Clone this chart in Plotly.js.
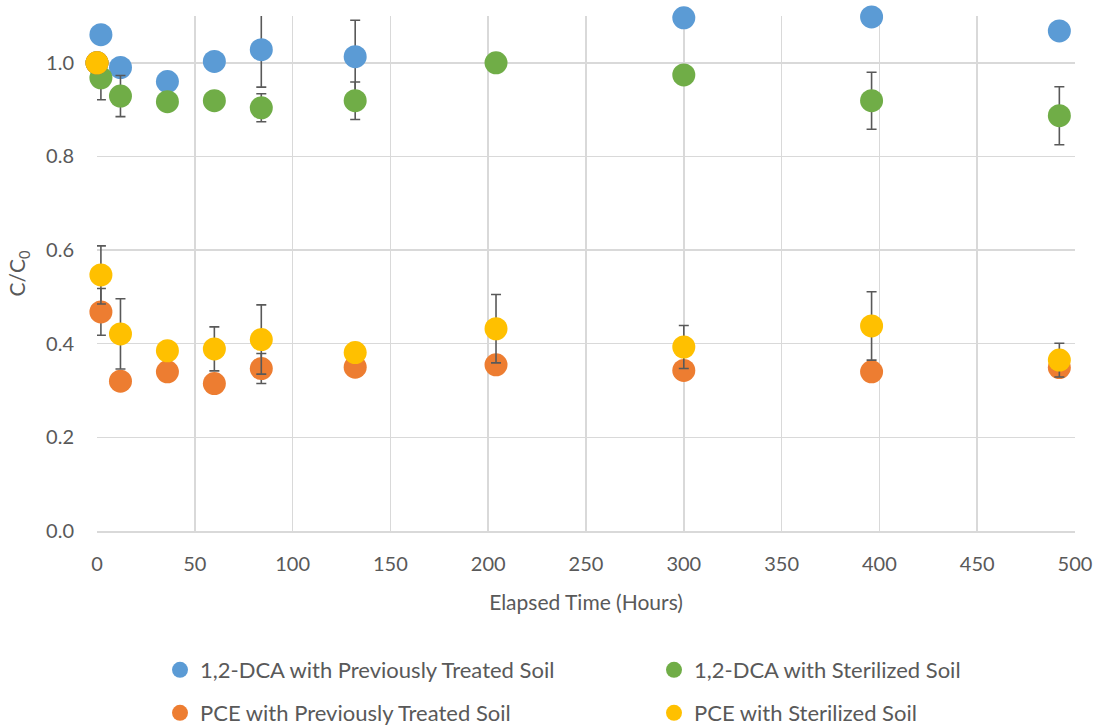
<!DOCTYPE html>
<html>
<head>
<meta charset="utf-8">
<script src="https://cdn.plot.ly/plotly-3.0.1.min.js"></script>
<style>
  html, body { margin: 0; padding: 0; background: #fff; }
  #chart { width: 1098px; height: 726px; }
</style>
</head>
<body>
<div id="chart"></div>
<script>
// Elapsed time (hours) sampled for every series
const hours = [0, 2, 12, 36, 60, 84, 132, 204, 300, 396, 492];

// C/C0 values
const dcaTreated   = [1.0, 1.06, 0.99, 0.96, 1.003, 1.028, 1.013, null, 1.096, 1.098, 1.068];
const dcaTreatedErr = [0, 0, 0, 0, 0, 0.08, 0.078, 0, 0, 0, 0];

const dcaSterile   = [1.0, 0.968, 0.929, 0.917, 0.919, 0.904, 0.919, 1.0, 0.974, 0.919, 0.887];
const dcaSterileErr = [0, 0.047, 0.044, 0, 0, 0.03, 0.04, 0, 0, 0.061, 0.062];

const pceTreated   = [1.0, 0.468, 0.32, 0.34, 0.315, 0.347, 0.35, 0.355, 0.343, 0.34, 0.349];
const pceTreatedErr = [0, 0.05, 0, 0, 0, 0.032, 0, 0, 0, 0, 0];

const pceSterile   = [1.0, 0.547, 0.421, 0.385, 0.389, 0.409, 0.381, 0.432, 0.393, 0.438, 0.365];
const pceSterileErr = [0, 0.062, 0.075, 0, 0.047, 0.074, 0, 0.073, 0.046, 0.073, 0.036];

const xTicks = [0, 50, 100, 150, 200, 250, 300, 350, 400, 450, 500];
const yTicks = [0, 0.2, 0.4, 0.6, 0.8, 1.0];

const COLORS = {
  blue: '#5b9bd5',
  green: '#70ad47',
  orange: '#ed7d31',
  yellow: '#ffc000',
  grid: '#d9d9d9',
  text: '#595959',
  errbar: '#595959',
};

const FONT = 'Lato, Open Sans, sans-serif';

function makeTrace(name, y, err, color, legendId) {
  return {
    x: hours,
    y: y,
    name: name,
    legend: legendId,
    type: 'scatter',
    mode: 'markers',
    cliponaxis: false,
    marker: { color: color, size: 23, line: { width: 0 } },
    error_y: {
      type: 'data',
      array: err,
      visible: true,
      color: COLORS.errbar,
      thickness: 1.6,
      width: 5,
    },
  };
}

const data = [
  makeTrace('1,2-DCA with Previously Treated Soil', dcaTreated, dcaTreatedErr, COLORS.blue, 'legend'),
  makeTrace('1,2-DCA with Sterilized Soil', dcaSterile, dcaSterileErr, COLORS.green, 'legend2'),
  makeTrace('PCE with Previously Treated Soil', pceTreated, pceTreatedErr, COLORS.orange, 'legend3'),
  makeTrace('PCE with Sterilized Soil', pceSterile, pceSterileErr, COLORS.yellow, 'legend4'),
];

// One legend per entry, laid out as a 2x2 grid like the original
function legendAt(left, middle) {
  return {
    orientation: 'h',
    xref: 'container',
    x: left / 1098,
    xanchor: 'left',
    yref: 'container',
    y: 1 - middle / 726,
    yanchor: 'middle',
    font: { family: FONT, size: 22, color: COLORS.text },
    itemsizing: 'trace',
    bgcolor: 'rgba(0,0,0,0)',
  };
}

const layout = {
  width: 1098,
  height: 726,
  margin: { l: 97, r: 23, t: 16, b: 195, autoexpand: false },
  paper_bgcolor: '#fff',
  plot_bgcolor: '#fff',
  font: { family: FONT, color: COLORS.text, size: 20 },
  showlegend: true,
  xaxis: {
    range: [0, 500],
    tickvals: xTicks,
    ticktext: xTicks.map(String),
    showgrid: true,
    gridcolor: COLORS.grid,
    gridwidth: 1.5,
    zeroline: false,
    showline: true,
    linecolor: COLORS.grid,
    linewidth: 1.5,
    ticks: '',
    ticklabelstandoff: 14,
    tickfont: { family: FONT, size: 20, color: COLORS.text },
    title: {
      text: 'Elapsed Time (Hours)',
      font: { family: FONT, size: 21, color: COLORS.text },
      standoff: 22,
    },
  },
  yaxis: {
    range: [0, 1.1],
    tickvals: yTicks,
    ticktext: yTicks.map(v => v.toFixed(1)),
    showgrid: true,
    gridcolor: COLORS.grid,
    gridwidth: 1.5,
    zeroline: false,
    showline: false,
    ticks: '',
    ticklabelstandoff: 22,
    tickfont: { family: FONT, size: 20, color: COLORS.text },
    title: {
      text: 'C/C<sub>0</sub>',
      font: { family: FONT, size: 21, color: COLORS.text },
      standoff: 14,
    },
  },
  legend: legendAt(160, 670),
  legend2: legendAt(654, 670),
  legend3: legendAt(160, 713),
  legend4: legendAt(654, 713),
};

Plotly.newPlot('chart', data, layout, { displayModeBar: false, staticPlot: true });
</script>
</body>
</html>
